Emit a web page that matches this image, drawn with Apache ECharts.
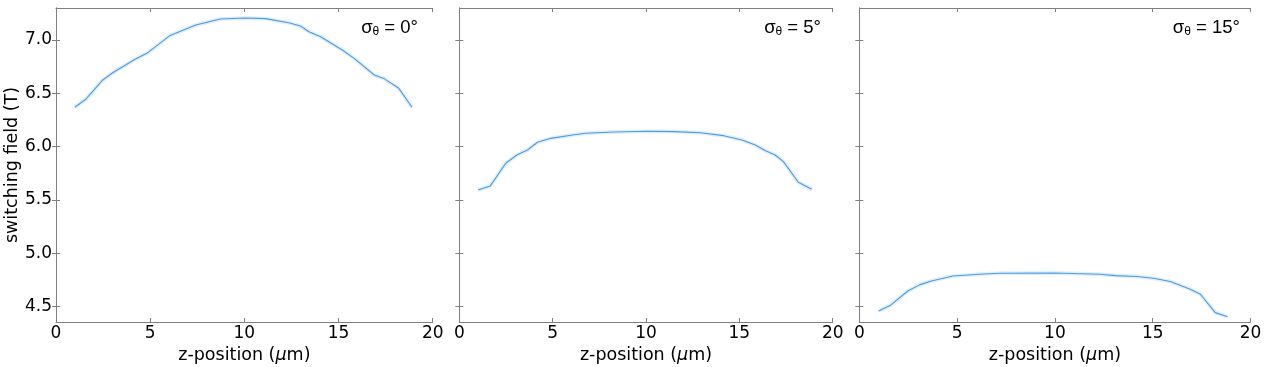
<!DOCTYPE html>
<html>
<head>
<meta charset="utf-8">
<script src="https://cdn.jsdelivr.net/npm/echarts@6/dist/echarts.min.js"></script>
<style>
html,body{margin:0;padding:0;background:#fff;}
#c{width:1264px;height:367px;}
</style>
</head>
<body>
<div id="c"></div>
<script>
// ---- data ----
const x0 = [1.0,1.6,2.45,2.99,4.2,4.82,6.06,7.42,8.72,10.05,11.12,12.36,12.98,13.43,14.05,15.2,15.83,16.9,17.4,18.2,18.9];
const y0 = [6.370,6.447,6.620,6.690,6.819,6.875,7.043,7.140,7.197,7.206,7.200,7.162,7.131,7.078,7.030,6.906,6.828,6.672,6.640,6.547,6.369];

const x5 = [1.01,1.66,2.49,3.08,3.65,4.19,4.90,5.97,6.77,8.28,10.06,11.49,12.91,14.16,15.14,15.85,16.38,16.92,17.36,18.16,18.88];
const y5 = [5.594,5.632,5.844,5.922,5.969,6.041,6.078,6.107,6.125,6.138,6.144,6.141,6.131,6.103,6.063,6.016,5.963,5.922,5.860,5.666,5.600];

const x15 = [0.99,1.57,2.48,3.08,3.68,4.79,6.15,7.18,10.0,12.3,13.08,14.19,15.04,15.9,16.92,17.44,18.2,18.83];
const y15 = [4.460,4.510,4.647,4.704,4.741,4.788,4.804,4.813,4.816,4.804,4.791,4.782,4.766,4.735,4.663,4.616,4.444,4.406];

const panelLabels = ['0°','5°','15°'];
const yTicks = [4.5,5.0,5.5,6.0,6.5,7.0];
const xTicks = [0,5,10,15,20];
const yMin = 4.356, yMax = 7.30;

// ---- layout/style ----
const lineColor = '#4a9be3';
const spine = '#808080';
const font = 'DejaVu Sans';
const grids = [
  {left:56, width:376.7, top:8, height:314, outerBoundsMode:'none', containLabel:false},
  {left:459.3, width:373.4, top:8, height:314, outerBoundsMode:'none', containLabel:false},
  {left:859.3, width:391.2, top:8, height:314, outerBoundsMode:'none', containLabel:false}
];
const series = [[x0,y0],[x5,y5],[x15,y15]];

const xAxis = [], yAxis = [], ser = [], titles = [];
const titleRight = [841, 438, 19];

grids.forEach((g, i) => {
  xAxis.push({
    type:'value', gridIndex:i, min:0, max:20, interval:5, position:'bottom',
    axisLine:{show:true, lineStyle:{color:spine, width:1}},
    axisTick:{show:true, inside:true, length:4, lineStyle:{color:spine}},
    axisLabel:{show:true, color:'#000', fontFamily:font, fontSize:17, margin:3, showMinLabel:true, showMaxLabel:true},
    splitLine:{show:false},
    name:'{n|z-position (}{i|μ}{n|m)}', nameLocation:'middle', nameGap:21,
    nameTextStyle:{rich:{n:{fontFamily:font,fontSize:17.5,color:'#000'}, i:{fontFamily:font,fontSize:17.5,fontStyle:'italic',color:'#000'}}}
  });
  xAxis.push({
    type:'value', gridIndex:i, min:0, max:20, interval:5, position:'top',
    axisLine:{show:true, lineStyle:{color:spine, width:1}},
    axisTick:{show:true, inside:true, length:4, lineStyle:{color:spine}},
    axisLabel:{show:false}, splitLine:{show:false}
  });
  yAxis.push({
    type:'value', gridIndex:i, min:yMin, max:yMax, position:'left',
    axisLine:{show:true, lineStyle:{color:spine, width:1}},
    axisTick:{show:true, inside:true, length:4, lineStyle:{color:spine}, customValues:yTicks},
    axisLabel:{show:i===0, color:'#000', fontFamily:font, fontSize:17, margin:4, customValues:yTicks,
      formatter:v=>v.toFixed(1)},
    splitLine:{show:false},
    name: i===0 ? 'switching field (T)' : '', nameLocation:'middle', nameGap:29,
    nameTextStyle:{fontFamily:font, fontSize:17.5, color:'#000'}
  });
  yAxis.push({
    type:'value', gridIndex:i, min:yMin, max:yMax, position:'right',
    axisLine:{show:true, lineStyle:{color:spine, width:1}},
    axisTick:{show:true, inside:true, length:4, lineStyle:{color:spine}, customValues:yTicks},
    axisLabel:{show:false}, splitLine:{show:false}
  });
  const [xs, ys] = series[i];
  const pts = xs.map((x, k) => [x, ys[k]]);
  ser.push({
    type:'line', xAxisIndex:2*i, yAxisIndex:2*i, data:pts, showSymbol:false, silent:true,
    lineStyle:{color:lineColor, width:4, opacity:0.16}, z:1
  });
  ser.push({
    type:'line', xAxisIndex:2*i, yAxisIndex:2*i, data:pts, showSymbol:false,
    lineStyle:{color:lineColor, width:1.1}, z:2
  });
  titles.push({
    text:'{s|σ}{sub|θ}{s| = ' + panelLabels[i] + '}',
    right:titleRight[i], top:12,
    textStyle:{fontWeight:'normal', rich:{
      s:{fontFamily:'Liberation Sans', fontSize:18.5, fontWeight:'normal', color:'#000'},
      sub:{fontFamily:'Liberation Sans', fontSize:12, fontWeight:'normal', color:'#000', padding:[9,0,0,0]}
    }}
  });
});

const chart = echarts.init(document.getElementById('c'), null, {renderer:'canvas'});
chart.setOption({
  animation:false,
  backgroundColor:'#fff',
  title:titles,
  grid:grids,
  xAxis:xAxis,
  yAxis:yAxis,
  series:ser
});
</script>
</body>
</html>
